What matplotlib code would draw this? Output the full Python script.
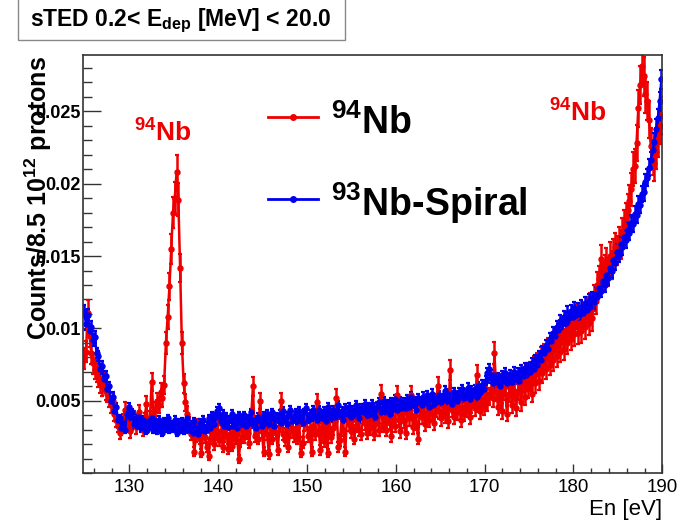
import numpy as np
import matplotlib
matplotlib.use("Agg")
import matplotlib.pyplot as plt
from matplotlib.patches import Rectangle
from matplotlib.ticker import FixedLocator, MultipleLocator

plt.rcParams['font.family'] = ['Liberation Sans', 'DejaVu Sans']
plt.rcParams['mathtext.fontset'] = 'custom'
plt.rcParams['mathtext.rm'] = 'Liberation Sans:bold'
plt.rcParams['mathtext.it'] = 'Liberation Sans:bold'
plt.rcParams['mathtext.bf'] = 'Liberation Sans:bold'
plt.rcParams['mathtext.default'] = 'rm'

# ---------------- histogram data ----------------
bin_lo = 124.8          # eV, first bin lower edge
bin_width = 0.2         # eV
value_unit = 1e-4       # counts / 8.5e12 protons per listed unit

# 94Nb sample
nb94 = [
    79, 84, 111, 95, 83, 76, 72, 70, 66, 62,
    60, 63, 57, 55, 52, 47, 50, 41, 37, 33,
    28, 31, 36, 44, 38, 33, 29, 35, 38, 32,
    36, 42, 34, 30, 37, 48, 33, 38, 63, 40,
    44, 50, 47, 56, 52, 61, 90, 108, 129, 155,
    180, 190, 208, 189, 142, 90, 62, 49, 41, 34,
    27, 31, 15, 26, 33, 24, 14, 28, 25, 18,
    12, 24, 30, 20, 27, 35, 23, 29, 18, 26,
    31, 17, 27, 19, 33, 24, 28, 10, 22, 30,
    25, 34, 28, 21, 38, 60, 26, 32, 24, 50,
    29, 15, 35, 27, 13, 31, 24, 36, 28, 16,
    33, 50, 27, 23, 35, 18, 29, 38, 26, 31,
    24, 36, 14, 21, 34, 40, 26, 31, 15, 33,
    27, 49, 30, 16, 37, 22, 33, 14, 39, 25,
    31, 36, 52, 18, 23, 38, 30, 15, 41, 34,
    29, 37, 24, 33, 42, 30, 27, 39, 35, 28,
    36, 31, 40, 27, 34, 44, 30, 55, 33, 38,
    30, 42, 35, 26, 39, 33, 54, 37, 29, 41,
    36, 28, 43, 38, 54, 32, 40, 35, 24, 45,
    39, 46, 34, 42, 37, 48, 41, 35, 44, 60,
    43, 38, 47, 40, 45, 36, 71, 44, 39, 48,
    42, 50, 37, 46, 41, 49, 44, 39, 47, 52,
    45, 68, 48, 43, 51, 46, 55, 49, 53, 58,
    52, 83, 56, 46, 62, 43, 57, 60, 41, 55,
    59, 47, 64, 45, 57, 62, 49, 66, 53, 68,
    58, 70, 55, 74, 62, 76, 64, 80, 69, 82,
    72, 86, 75, 89, 78, 92, 81, 95, 84, 97,
    86, 99, 90, 102, 93, 105, 96, 108, 97, 104,
    98, 110, 101, 113, 104, 116, 107, 121, 119, 130,
    134, 148, 136, 141, 146, 139, 150, 144, 152, 156,
    154, 160, 158, 166, 171, 176, 182, 188, 196, 210,
    212, 228, 252, 268, 281, 274, 262, 257, 244, 226,
    218, 214, 222, 231, 240, 247,
]

# 93Nb reference sample (Spiral)
nb93 = [
    112, 103, 109, 98, 101, 92, 94, 83, 81, 72,
    74, 65, 67, 58, 60, 50, 53, 43, 46, 37,
    38, 31, 35, 30, 41, 46, 39, 42, 34, 38,
    33, 39, 31, 37, 35, 29, 36, 32, 38, 30,
    35, 29, 37, 33, 28, 36, 31, 38, 30, 34,
    31, 37, 28, 35, 30, 36, 29, 33, 38, 30,
    34, 28, 36, 31, 27, 35, 30, 37, 29, 33,
    38, 31, 40, 34, 39, 43, 45, 36, 41, 33,
    39, 32, 37, 41, 33, 38, 31, 40, 36, 34,
    40, 33, 38, 35, 42, 34, 37, 31, 39, 36,
    33, 40, 35, 41, 34, 38, 42, 33, 39, 37,
    41, 35, 43, 37, 34, 40, 44, 36, 38, 42,
    36, 43, 38, 35, 42, 45, 37, 41, 39, 44,
    40, 37, 44, 41, 38, 43, 36, 46, 40, 38,
    44, 39, 42, 47, 40, 43, 37, 45, 41, 46,
    39, 44, 41, 47, 43, 38, 45, 42, 48, 40,
    46, 41, 48, 43, 39, 46, 49, 42, 45, 50,
    43, 48, 41, 49, 45, 51, 44, 47, 50, 46,
    49, 45, 51, 46, 53, 48, 50, 44, 52, 49,
    47, 53, 49, 54, 46, 51, 55, 48, 52, 50,
    54, 49, 52, 57, 50, 55, 51, 48, 56, 53,
    50, 56, 53, 58, 52, 55, 59, 51, 57, 54,
    58, 53, 60, 56, 61, 58, 64, 69, 72, 66,
    62, 68, 63, 66, 60, 67, 64, 69, 62, 66,
    68, 63, 70, 65, 69, 64, 71, 67, 73, 68,
    73, 70, 76, 72, 78, 75, 81, 78, 84, 83,
    88, 86, 93, 91, 97, 95, 101, 99, 105, 103,
    108, 104, 111, 107, 112, 108, 114, 109, 113, 110,
    115, 111, 117, 113, 119, 115, 121, 118, 124, 122,
    128, 126, 133, 130, 137, 135, 142, 140, 147, 145,
    153, 151, 158, 156, 163, 161, 168, 166, 173, 172,
    179, 178, 186, 185, 193, 194, 201, 204, 211, 216,
    223, 229, 238, 245, 257, 272,
]

# counting statistics: equivalent raw counts per unit of normalised yield
counts_per_unit_94 = 15000.0
counts_per_unit_93 = 60000.0

x_range = (124.8, 190.0)
y_range = (0.0, 0.0289)
x_major_ticks = [130, 140, 150, 160, 170, 180, 190]
y_major_ticks = [0.005, 0.01, 0.015, 0.02, 0.025]
y_tick_labels = ["0.005", "0.01", "0.015", "0.02", "0.025"]

RED = "#ee0000"
BLUE = "#0000ee"

# ---------------- figure ----------------
W, H = 684, 522
fig = plt.figure(figsize=(W / 100, H / 100), dpi=100)
ax = fig.add_axes([83.3 / W, 1 - 473.3 / H, (662.3 - 83.3) / W, (473.3 - 54.7) / H])

energy = bin_lo + bin_width * (np.arange(len(nb94)) + 0.5)

for vals, cpu, color in [(nb94, counts_per_unit_94, RED),
                         (nb93, counts_per_unit_93, BLUE)]:
    y = np.asarray(vals, dtype=float) * value_unit
    err = np.sqrt(y / cpu)
    ax.errorbar(energy, y, yerr=err, color=color, marker='o', ms=3.6,
                lw=1.8, elinewidth=1.8, capsize=1.6, capthick=1.6, zorder=2)

ax.set_xlim(*x_range)
ax.set_ylim(*y_range)

ax.xaxis.set_major_locator(FixedLocator(x_major_ticks))
ax.xaxis.set_minor_locator(MultipleLocator(2))
ax.yaxis.set_major_locator(FixedLocator(y_major_ticks))
ax.set_yticklabels(y_tick_labels)
ax.yaxis.set_minor_locator(MultipleLocator(0.001))

for sp in ax.spines.values():
    sp.set_color('#333333')
    sp.set_linewidth(1.2)

ax.tick_params(axis='x', which='major', direction='in', length=6.7, width=1,
               color='#333333', labelsize=13.5, pad=4, top=False)
ax.tick_params(axis='x', which='minor', direction='in', length=3.4, width=1,
               color='#333333', top=False)
ax.tick_params(axis='y', which='major', direction='in', length=13, width=1,
               color='#333333', labelsize=13, pad=2, right=False)
ax.tick_params(axis='y', which='minor', direction='in', length=6.5, width=1,
               color='#333333', right=False)
for lab in ax.get_yticklabels():
    lab.set_fontweight('bold')

# axis titles
fig.text(38 / W, 1 - 198 / H, "Counts/8.5 10$^{12}$ protons", rotation=90,
         ha='center', va='center', fontsize=18, fontweight='bold')
fig.text(662 / W, 1 - 510 / H, "En [eV]", ha='right', va='center', fontsize=16)

# title box
fig.patches.append(Rectangle((18 / W, 1 - 40 / H), (345 - 18) / W, 60 / H,
                             transform=fig.transFigure, facecolor='white',
                             edgecolor='#888888', lw=1.0, zorder=1))
fig.text(30 / W, 1 - 21 / H, "sTED 0.2< E$_{dep}$ [MeV] < 20.0",
         ha='left', va='center', fontsize=16.5, fontweight='bold', zorder=2)

# legend entries
for ly, label, color in [(117, "$^{94}$Nb", RED), (199, "$^{93}$Nb-Spiral", BLUE)]:
    fig.add_artist(plt.Line2D([268 / W, 318 / W], [1 - ly / H, 1 - ly / H],
                              color=color, lw=2, transform=fig.transFigure))
    fig.add_artist(plt.Line2D([293 / W], [1 - ly / H], color=color, marker='o',
                              ms=4, lw=0, transform=fig.transFigure))
    fig.text(331 / W, 1 - (ly + 17) / H, label, ha='left', va='baseline',
             fontsize=27, fontweight='bold')

# peak labels
fig.text(134 / W, 1 - 142 / H, "$^{94}$Nb", color=RED, ha='left', va='baseline',
         fontsize=19, fontweight='bold')
fig.text(549 / W, 1 - 122 / H, "$^{94}$Nb", color=RED, ha='left', va='baseline',
         fontsize=19, fontweight='bold')

fig.savefig("out.png", dpi=100)
